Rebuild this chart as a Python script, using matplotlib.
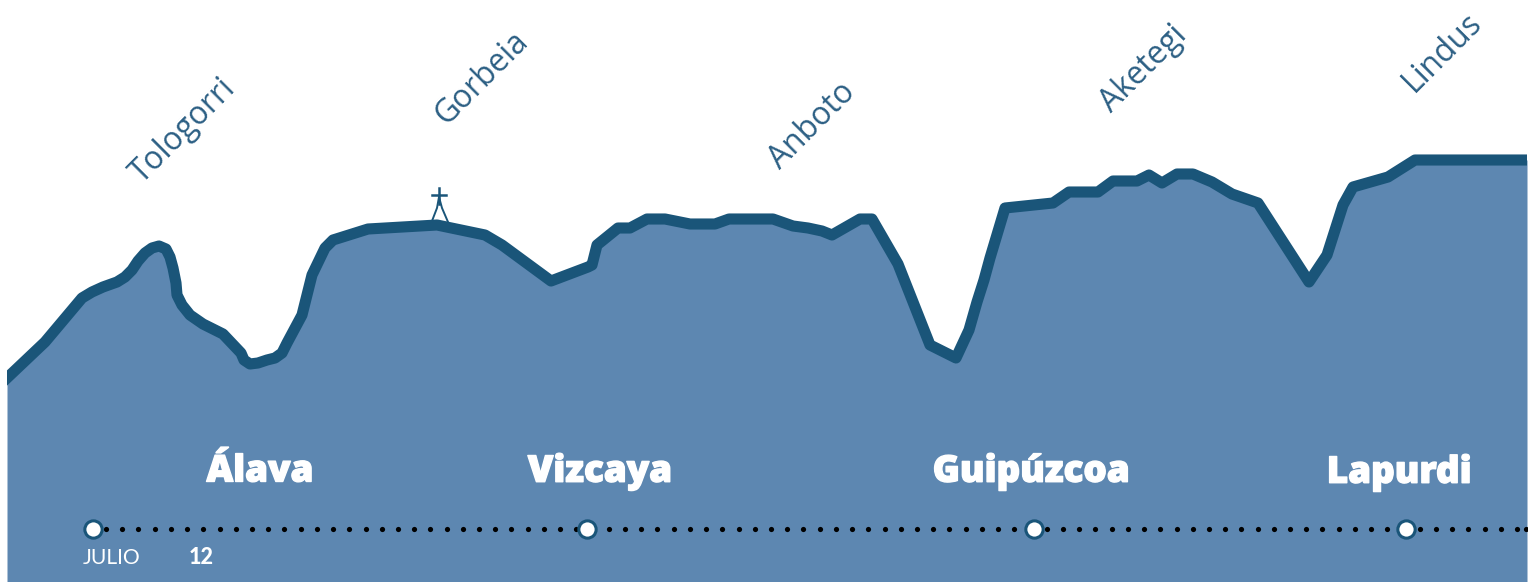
import matplotlib
matplotlib.use("Agg")
import matplotlib.pyplot as plt
import matplotlib.patheffects as pe

W, H = 1533, 582
FILL = "#5d87b1"
LINE = "#1a5579"

# Profile: position along the route / height on the picture's scale
route = [7,45,82,92,103,117,125,132,138,145,152,159,166,170,173,176,177,182,190,203,223,241,244,250,258,267,275,282,287,302,312,325,333,368,437,485,502,551,588,592,597,618,630,647,665,690,715,729,773,793,808,822,832,860,872,898,930,956,969,977,984,990,1005,1053,1069,1098,1113,1137,1149,1162,1177,1193,1212,1232,1258,1309,1327,1343,1353,1388,1415,1527]
profile = [378,342,298,292,287,282,277,270,261,253,248,246,249,257,268,283,295,305,315,324,334,353,360,364,363,360,358,353,343,315,275,248,240,229,225,235,245,281,267,265,245,228,228,219,219,224,224,219,219,226,228,231,235,219,219,264,345,358,330,302,280,258,208,203,192,192,181,181,175,183,174,174,182,194,203,282,255,205,187,177,160,160]

peaks = ["Tologorri","Gorbeia","Anboto","Aketegi","Lindus"]
peak_x = [183,482,812,1144,1442]
peak_y = [131,78,126,69,52]

regions = ["Álava","Vizcaya","Guipúzcoa","Lapurdi"]
region_x = [260,600,1031,1399]
region_y = [472,472,472,473]

stage_x = [93,587,1034,1406]
timeline_y = 529
dot_x = [106 + 16.22 * i for i in range(88)] + [1526]

cross_stem_x = [439,439]
cross_stem_y = [188,204]
cross_arm_x = [432,446]
cross_arm_y = [195,195]
leg_left_x = [439,437,432]
leg_left_y = [197,208,221]
leg_right_x = [439,442,448]
leg_right_y = [197,208,222]

fig = plt.figure(figsize=(W/100, H/100), dpi=100, facecolor="white")
ax = fig.add_axes([7/W, 0, 1520/W, 1])
ax.set_xlim(7, 1527)
ax.set_ylim(H, 0)
ax.axis("off")

ax.fill_between(route, profile, H, color=FILL, lw=0, zorder=1)
ax.plot(route, profile, color=LINE, lw=8.0, solid_joinstyle="round", zorder=3)
for xs, ys, w in [(cross_stem_x, cross_stem_y, 1.8), (cross_arm_x, cross_arm_y, 1.8),
                  (leg_left_x, leg_left_y, 1.4), (leg_right_x, leg_right_y, 1.4)]:
    ax.plot(xs, ys, color=LINE, lw=w, zorder=2)

ax.scatter(dot_x, [timeline_y]*len(dot_x), s=14, color="black", lw=0, zorder=4, clip_on=True)
ax.scatter(stage_x, [timeline_y]*len(stage_x), s=155, facecolor="white", edgecolor=LINE, lw=2.2, zorder=5)

for name, x, y in zip(peaks, peak_x, peak_y):
    ax.text(x, y, name, rotation=45, ha="center", va="center", rotation_mode="anchor",
            fontsize=22.8, color="#2c5f84", family="Open Sans", zorder=6)
for name, x, y in zip(regions, region_x, region_y):
    ax.text(x, y, name, ha="center", va="center", fontsize=26.5, color="white",
            family="Open Sans", fontweight="extra bold", zorder=6,
            path_effects=[pe.withStroke(linewidth=1.0, foreground="white")])
ax.text(83, 558, "JULIO", ha="left", va="center", fontsize=15.2, color="white",
        family="Lato", fontweight="normal", zorder=6)
ax.text(201, 557, "12", ha="center", va="center", fontsize=15.5, color="white",
        family="Lato", fontweight="black", zorder=6)

fig.savefig("out.png", dpi=100, facecolor="white")
